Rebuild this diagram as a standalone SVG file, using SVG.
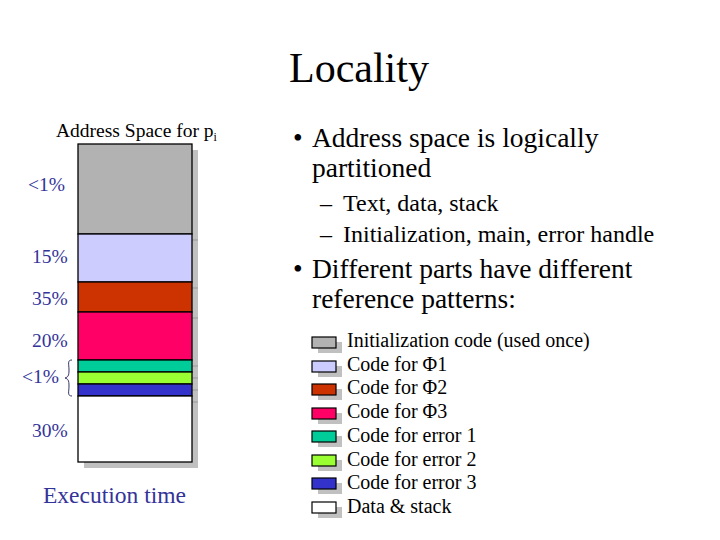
<svg xmlns="http://www.w3.org/2000/svg" width="720" height="540" viewBox="0 0 720 540" font-family="'Liberation Serif', 'Times New Roman', 'DejaVu Serif', serif">
<style>
text{font-family:"Liberation Serif","Times New Roman","DejaVu Serif",serif;fill:#000}
.blue{fill:#333399}
.seg{stroke:#000;stroke-width:1.3}
.tick{stroke:#999;stroke-width:1}
.sw{stroke:#000;stroke-width:1.2}
.sh{fill:#c0c0c0}
</style>
<rect width="720" height="540" fill="#fff"/>
<text x="359" y="82" font-size="42" text-anchor="middle">Locality</text>

<g id="address-space">
<text x="56" y="137" font-size="19.5">Address Space for p<tspan font-size="12" dy="4">i</tspan></text>
<rect class="sh" x="84" y="150" width="114" height="318"/>
<g class="tick">
<line x1="192" y1="240" x2="198" y2="240"/>
<line x1="192" y1="288" x2="198" y2="288"/>
<line x1="192" y1="318" x2="198" y2="318"/>
<line x1="192" y1="366" x2="198" y2="366"/>
<line x1="192" y1="378" x2="198" y2="378"/>
<line x1="192" y1="390" x2="198" y2="390"/>
<line x1="192" y1="402" x2="198" y2="402"/>
</g>
<rect class="seg" x="78" y="144" width="114" height="90" fill="#b2b2b2"/>
<rect class="seg" x="78" y="234" width="114" height="48" fill="#ccccff"/>
<rect class="seg" x="78" y="282" width="114" height="30" fill="#cc3300"/>
<rect class="seg" x="78" y="312" width="114" height="48" fill="#ff0066"/>
<rect class="seg" x="78" y="360" width="114" height="12" fill="#00cc99"/>
<rect class="seg" x="78" y="372" width="114" height="12" fill="#99ff33"/>
<rect class="seg" x="78" y="384" width="114" height="12" fill="#3333cc"/>
<rect class="seg" x="78" y="396" width="114" height="66" fill="#ffffff"/>
<g font-size="19.5">
<text class="blue" x="28" y="191">&lt;1%</text>
<text class="blue" x="32" y="263">15%</text>
<text class="blue" x="32" y="305">35%</text>
<text class="blue" x="32" y="347">20%</text>
<text class="blue" x="22" y="383">&lt;1%</text>
<text class="blue" x="32" y="437">30%</text>
</g>
<path d="M72,360 C67,360 69,364 69,370 C69,376 68,377 65,378 C68,379 69,380 69,386 C69,392 67,396 72,396" fill="none" stroke="#333366" stroke-width="1"/>
<text class="blue" x="43" y="503" font-size="23.5">Execution time</text>
</g>

<g id="bullets">
<text x="293" y="147" font-size="27.5">•</text>
<text x="312" y="147" font-size="27.5">Address space is logically</text>
<text x="312" y="177" font-size="27.5">partitioned</text>
<text x="320" y="211" font-size="24">–</text>
<text x="343" y="211" font-size="24">Text, data, stack</text>
<text x="320" y="242" font-size="24">–</text>
<text x="343" y="242" font-size="24">Initialization, main, error handle</text>
<text x="293" y="278" font-size="27.5">•</text>
<text x="312" y="278" font-size="27.5">Different parts have different</text>
<text x="312" y="308" font-size="27.5">reference patterns:</text>
</g>

<g id="legend" font-size="20">
<g id="lg1"><rect class="sh" x="318" y="342" width="24" height="11"/><rect class="sw" x="312" y="337" width="24" height="11" fill="#b2b2b2"/><text x="347" y="347">Initialization code (used once)</text></g>
<g id="lg2"><rect class="sh" x="318" y="366" width="24" height="11"/><rect class="sw" x="312" y="361" width="24" height="11" fill="#ccccff"/><text x="347" y="371">Code for Φ1</text></g>
<g id="lg3"><rect class="sh" x="318" y="389" width="24" height="11"/><rect class="sw" x="312" y="384" width="24" height="11" fill="#cc3300"/><text x="347" y="394">Code for Φ2</text></g>
<g id="lg4"><rect class="sh" x="318" y="413" width="24" height="11"/><rect class="sw" x="312" y="408" width="24" height="11" fill="#ff0066"/><text x="347" y="418">Code for Φ3</text></g>
<g id="lg5"><rect class="sh" x="318" y="436" width="24" height="11"/><rect class="sw" x="312" y="431" width="24" height="11" fill="#00cc99"/><text x="347" y="442">Code for error 1</text></g>
<g id="lg6"><rect class="sh" x="318" y="460" width="24" height="11"/><rect class="sw" x="312" y="455" width="24" height="11" fill="#99ff33"/><text x="347" y="466">Code for error 2</text></g>
<g id="lg7"><rect class="sh" x="318" y="483" width="24" height="11"/><rect class="sw" x="312" y="478" width="24" height="11" fill="#3333cc"/><text x="347" y="489">Code for error 3</text></g>
<g id="lg8"><rect class="sh" x="318" y="507" width="24" height="11"/><rect class="sw" x="312" y="502" width="24" height="11" fill="#ffffff"/><text x="347" y="513">Data &amp; stack</text></g>
</g>
</svg>
